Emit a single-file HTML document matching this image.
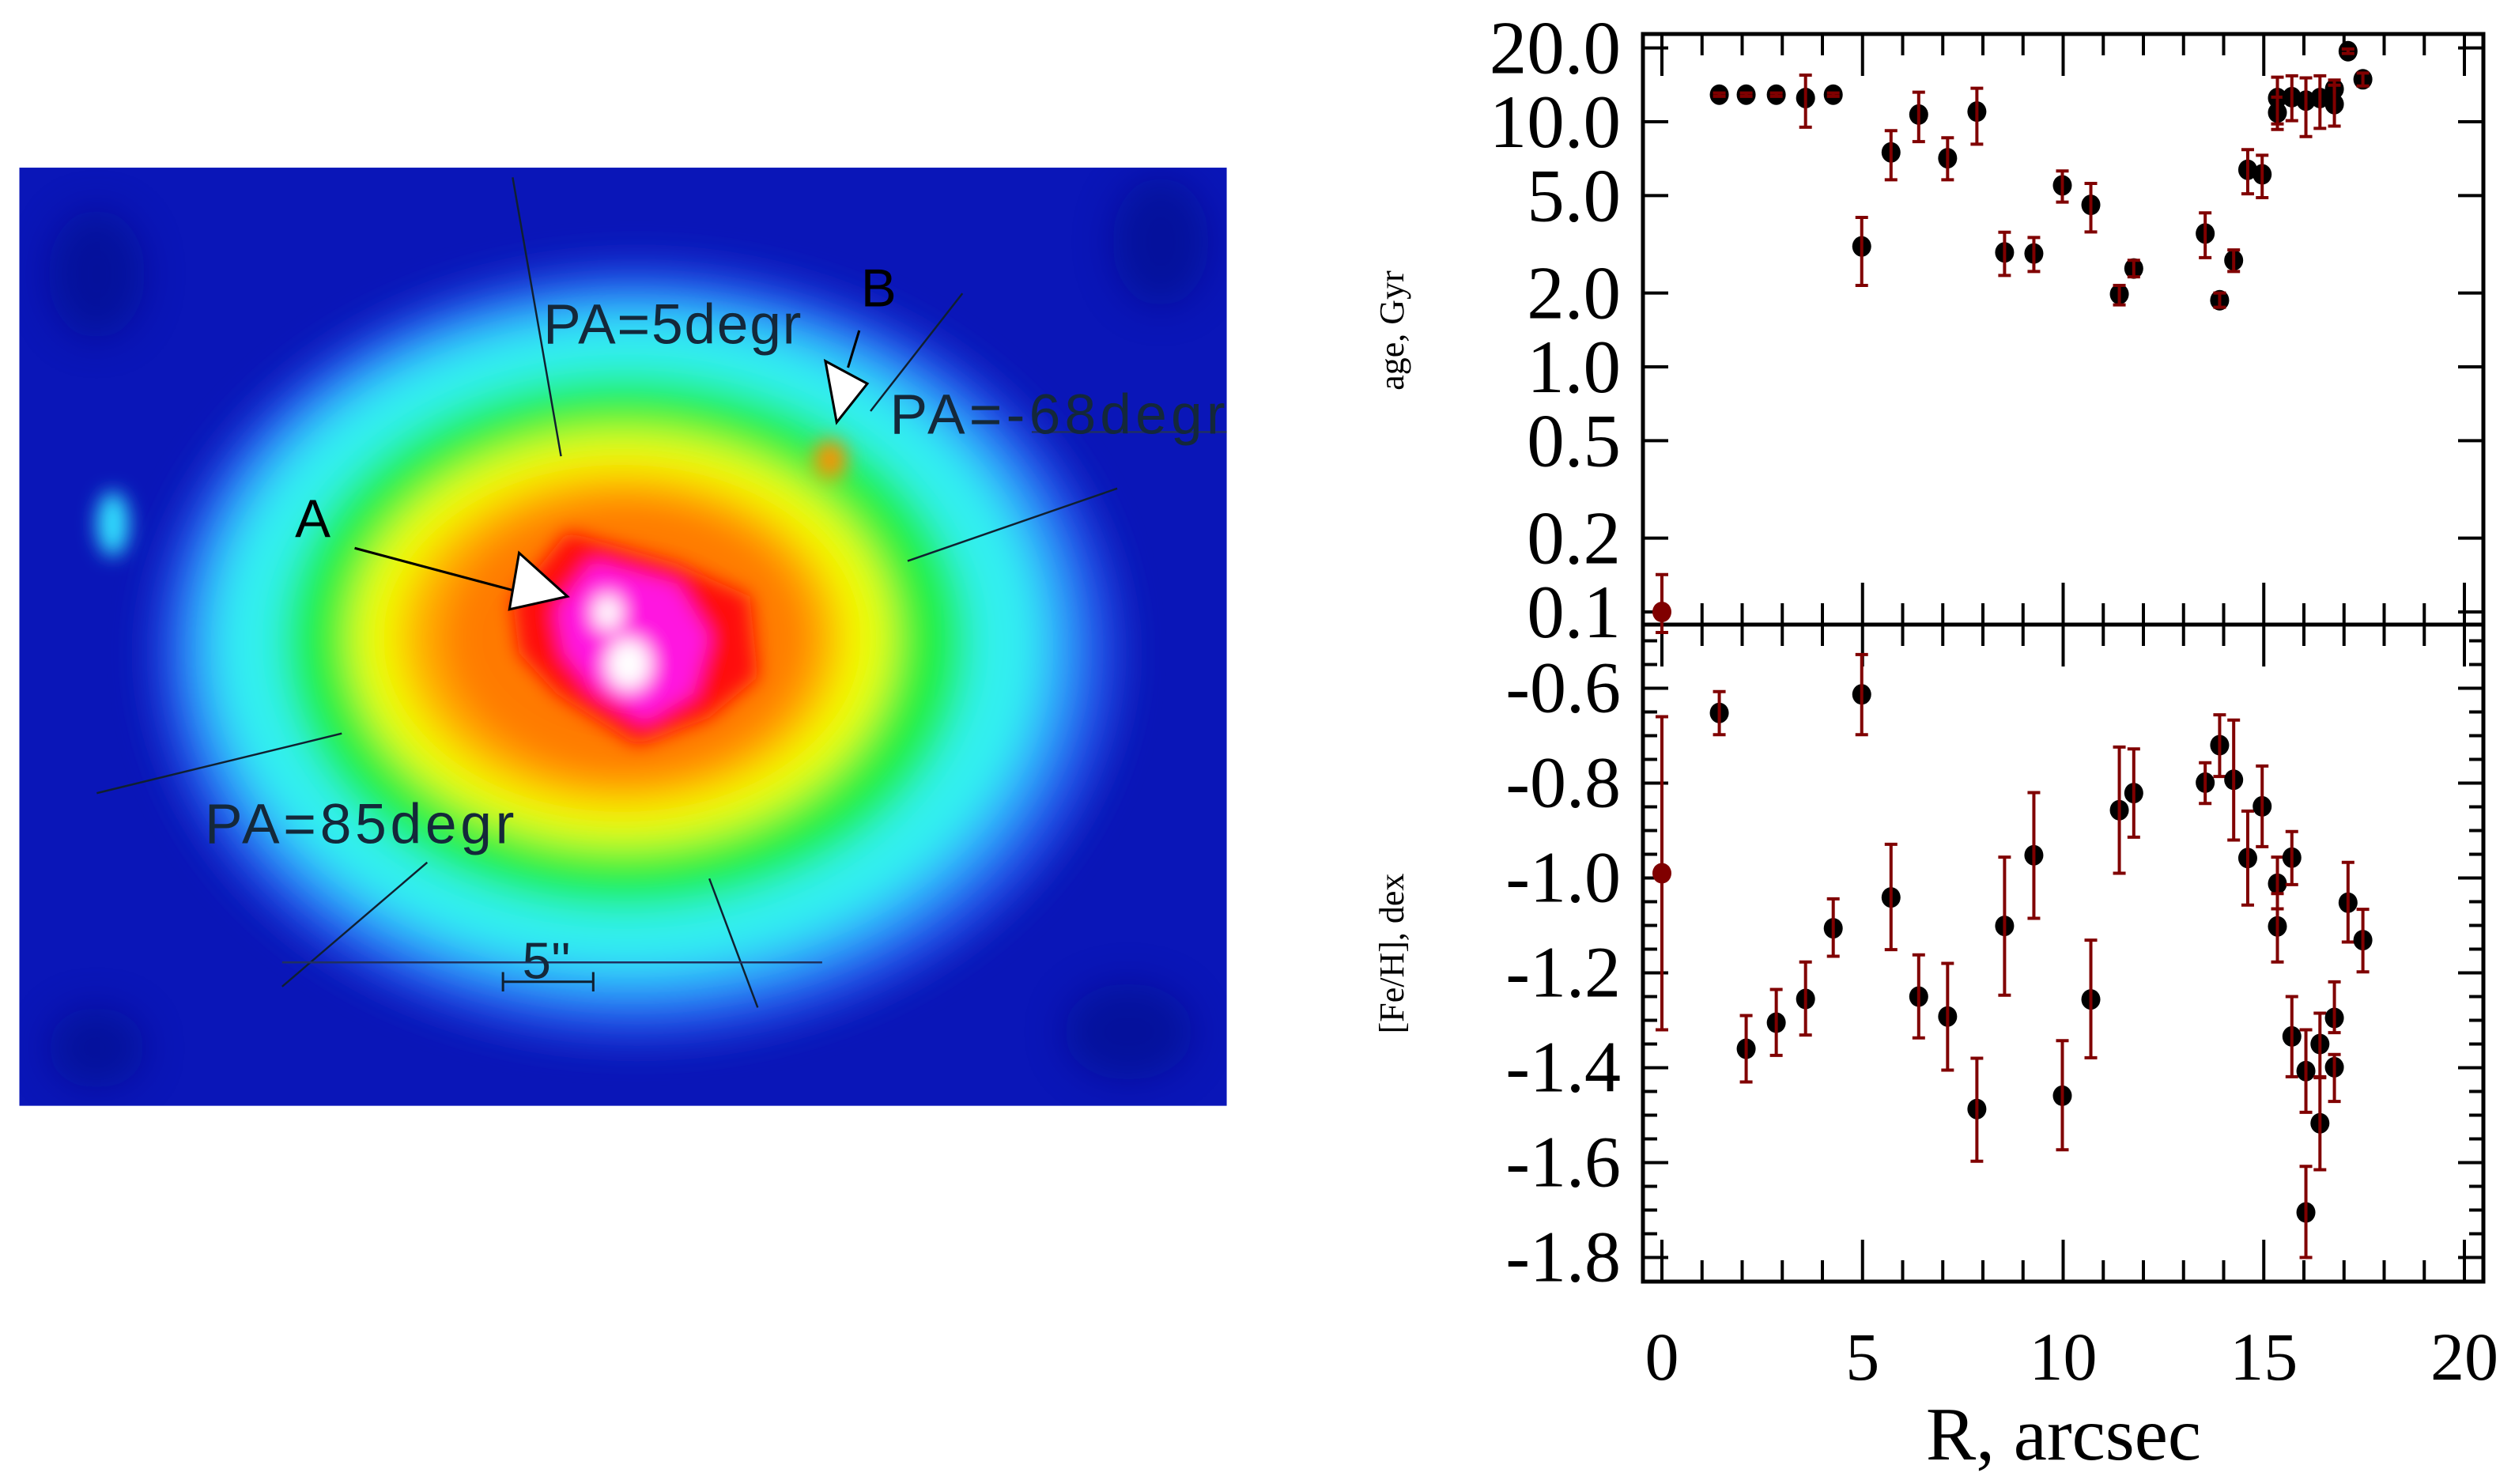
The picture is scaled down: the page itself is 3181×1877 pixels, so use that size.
<!DOCTYPE html>
<html><head><meta charset="utf-8"><style>
html,body{margin:0;padding:0;background:#fff}
svg{display:block}
text{font-family:"Liberation Serif",serif}
.img text{font-family:"Liberation Sans",sans-serif}
</style></head><body>
<svg id="fig" width="3181" height="1877" viewBox="0 0 3181 1877" xmlns="http://www.w3.org/2000/svg">
<defs>
<filter id="b1" x="-50%" y="-50%" width="200%" height="200%"><feGaussianBlur stdDeviation="12"/></filter>
<filter id="b2" x="-50%" y="-50%" width="200%" height="200%"><feGaussianBlur stdDeviation="6"/></filter>
<clipPath id="imgclip"><rect x="12" y="104" width="749" height="582"/></clipPath>
</defs>

<g class="img" transform="scale(2.039)">
 <g clip-path="url(#imgclip)">
  <rect x="12" y="104" width="749" height="582" fill="#0a16b8"/>
  <g filter="url(#b1)" fill="#000a80" opacity="0.5">
   <ellipse cx="60" cy="170" rx="30" ry="40"/><ellipse cx="720" cy="150" rx="30" ry="40"/>
   <ellipse cx="700" cy="640" rx="40" ry="30"/><ellipse cx="60" cy="650" rx="30" ry="25"/>
  </g>
  <g filter="url(#b1)">
   <ellipse cx="395" cy="405" rx="300" ry="240" fill="#2050e8"/>
   <ellipse cx="392" cy="402" rx="275" ry="218" fill="#30a8ff"/>
   <ellipse cx="390" cy="400" rx="255" ry="200" fill="#30f0f0"/>
   <ellipse cx="388" cy="398" rx="212" ry="165" fill="#20f040"/>
   <ellipse cx="386" cy="396" rx="168" ry="128" fill="#f0ff00"/>
   <ellipse cx="385" cy="396" rx="138" ry="104" fill="#ffb000"/>
   <ellipse cx="388" cy="396" rx="115" ry="88" fill="#ff7a00"/>
  </g>
  <g filter="url(#b2)">
   <path d="M318,372 L352,330 L420,350 L465,370 L470,420 L440,445 L395,462 L345,430 L322,405Z" fill="#ff1010"/>
   <path d="M345,378 L368,348 L420,362 L440,395 L430,430 L400,448 L368,428 L350,405Z" fill="#ff18e0"/>
   <ellipse cx="377" cy="380" rx="9" ry="11" fill="#fff"/>
   <ellipse cx="390" cy="412" rx="14" ry="16" fill="#fff"/>
   <ellipse cx="515" cy="285" rx="10" ry="12" fill="#ff9000"/>
   <ellipse cx="70" cy="325" rx="10" ry="20" fill="#30e0ff"/>
  </g>
  <g stroke="#102030" stroke-width="1.2" fill="none">
   <line x1="318" y1="110" x2="348" y2="283"/><line x1="440" y1="545" x2="470" y2="625"/>
   <line x1="597" y1="182" x2="540" y2="255"/><line x1="563" y1="348" x2="693" y2="303"/>
   <line x1="60" y1="492" x2="212" y2="455"/><line x1="175" y1="612" x2="265" y2="535"/>
   <line x1="175" y1="597" x2="510" y2="597" stroke="#203060"/>
   <line x1="640" y1="268" x2="761" y2="268" stroke="#203060"/>
  </g>
  <g stroke="#102030" stroke-width="1.5">
   <line x1="312" y1="609" x2="368" y2="609"/><line x1="312" y1="603" x2="312" y2="615"/><line x1="368" y1="603" x2="368" y2="615"/>
  </g>
  <g stroke="#000" stroke-width="1.5">
   <line x1="220" y1="340" x2="325" y2="368"/>
   <polygon points="322,343 352,370 316,378" fill="#fff"/>
   <line x1="533" y1="205" x2="526" y2="228"/>
   <polygon points="512,224 538,238 519,262" fill="#fff"/>
  </g>
  <g fill="#14283a" font-size="35">
   <text x="337" y="213" textLength="160">PA=5degr</text>
   <text x="534" y="190" font-size="33" fill="#000">B</text>
   <text x="552" y="269" textLength="208">PA=-68degr</text>
   <text x="183" y="333" font-size="33" fill="#000">A</text>
   <text x="127" y="523" textLength="192">PA=85degr</text>
   <text x="324" y="607" font-size="32">5''</text>
  </g>
 </g>
</g>

<g id="chart"></g>
</svg>
<script>
const ageR   = [1.43,2.1,2.85,3.58,4.27,4.98,5.71,6.4,7.12,7.85,8.54,9.27,9.98,10.69,11.4,11.76,13.54,13.9,14.25,14.6,14.96,15.34,15.34,15.7,16.05,16.4,16.76,16.76,17.1,17.47];
const ageVal = [12.9,12.9,12.9,12.5,12.9,3.1,7.5,10.7,7.1,11,2.93,2.9,5.5,4.58,1.98,2.52,3.5,1.87,2.72,6.37,6.1,12.5,10.9,12.6,12.2,12.5,13.6,11.8,19.4,14.9];
const ageHi  = [13.1,13.1,13.1,15.5,13.1,4.07,9.2,13.2,8.6,13.7,3.54,3.37,6.3,5.6,2.15,2.72,4.25,2.0,3.0,7.7,7.3,15.2,12.6,15.4,15.1,15.4,14.8,14.1,19.8,15.8];
const ageLo  = [12.7,12.7,12.7,9.5,12.7,2.15,5.8,8.3,5.8,8.1,2.36,2.45,4.7,3.55,1.79,2.33,2.79,1.75,2.45,5.08,4.9,9.8,9.3,10.1,8.7,9.4,12.3,9.6,19.0,14.0];
const ageRefR=[0], ageRefVal=[0.1], ageRefHi=[0.142], ageRefLo=[0.07];

const feR   = [1.43,2.1,2.85,3.58,4.27,4.98,5.71,6.4,7.12,7.85,8.54,9.27,9.98,10.69,11.4,11.76,13.54,13.9,14.25,14.6,14.96,15.34,15.34,15.7,15.7,16.05,16.05,16.4,16.4,16.76,16.76,17.1,17.47];
const feVal = [-0.652,-1.36,-1.305,-1.255,-1.106,-0.613,-1.041,-1.25,-1.292,-1.487,-1.101,-0.952,-1.459,-1.256,-0.857,-0.821,-0.799,-0.72,-0.793,-0.958,-0.849,-1.012,-1.102,-0.957,-1.334,-1.407,-1.705,-1.35,-1.517,-1.295,-1.399,-1.052,-1.131];
const feHi  = [-0.607,-1.29,-1.235,-1.177,-1.044,-0.529,-0.929,-1.162,-1.18,-1.38,-0.956,-0.82,-1.343,-1.131,-0.724,-0.728,-0.757,-0.656,-0.667,-0.859,-0.764,-0.956,-1.033,-0.902,-1.25,-1.32,-1.608,-1.285,-1.421,-1.219,-1.372,-0.967,-1.066];
const feLo  = [-0.698,-1.43,-1.374,-1.331,-1.165,-0.698,-1.151,-1.337,-1.405,-1.597,-1.247,-1.085,-1.573,-1.379,-0.99,-0.914,-0.843,-0.786,-0.92,-1.057,-0.934,-1.065,-1.177,-1.014,-1.419,-1.494,-1.8,-1.419,-1.615,-1.326,-1.471,-1.135,-1.198];
const feRefR=[0], feRefVal=[-0.99], feRefHi=[-0.66], feRefLo=[-1.32];

const xTicks = [0,5,10,15,20];
const ageTicks = [20,10,5,2,1,0.5,0.2,0.1];
const ageTickLabels = ["20.0","10.0","5.0","2.0","1.0","0.5","0.2","0.1"];
const feTicks = [-0.6,-0.8,-1.0,-1.2,-1.4,-1.6,-1.8];
const feTickLabels = ["-0.6","-0.8","-1.0","-1.2","-1.4","-1.6","-1.8"];

const L=2078,R=3141,T=43,M=790,B=1621;
const xs=r=>2102+r*50.75;
const ya=v=>464-310*Math.log10(v);
const yf=f=>1110.5-(f+1)*600;
const NS="http://www.w3.org/2000/svg";
const root=document.getElementById('chart');
function mk(tag,attrs,parent){const e=document.createElementNS(NS,tag);for(const k in attrs)e.setAttribute(k,attrs[k]);(parent||root).appendChild(e);return e;}

const frame=mk('g',{stroke:'#000','stroke-width':5,fill:'none'});


mk('rect',{x:L,y:T,width:R-L,height:B-T},frame);
mk('line',{x1:L,y1:M,x2:R,y2:M},frame);

const tk=mk('g',{stroke:'#000','stroke-width':4});


for(let r=0;r<=20;r++){const x=xs(r),len=(r%5===0)?53:27;
 mk('line',{x1:x,y1:T,x2:x,y2:T+len},tk);mk('line',{x1:x,y1:M,x2:x,y2:M-len},tk);
 mk('line',{x1:x,y1:M,x2:x,y2:M+len},tk);mk('line',{x1:x,y1:B,x2:x,y2:B-len},tk);}
ageTicks.forEach(v=>{const y=ya(v);mk('line',{x1:L,y1:y,x2:L+32,y2:y},tk);mk('line',{x1:R,y1:y,x2:R-32,y2:y},tk);});
for(let i=0;i<=27;i++){const f=-0.5-i*0.05;const y=yf(f);if(y<M+3||y>B-3)continue;
 const maj=Math.abs(Math.round(f*10)/10-f)<1e-6 && Math.round(f*10)%2===0;const len=maj?32:18;
 mk('line',{x1:L,y1:y,x2:L+len,y2:y},tk);mk('line',{x1:R,y1:y,x2:R-len,y2:y},tk);}

ageTicks.forEach((v,i)=>{const t=mk('text',{x:2050,y:ya(v)+32,'text-anchor':'end','font-size':95});t.textContent=ageTickLabels[i];
 
 });
feTicks.forEach((v,i)=>{const t=mk('text',{x:2050,y:yf(v)+30,'text-anchor':'end','font-size':92});t.textContent=feTickLabels[i];
 
 });
xTicks.forEach(v=>{const t=mk('text',{x:xs(v),y:1745,'text-anchor':'middle','font-size':86});t.textContent=String(v);
 
 });
let t=mk('text',{x:2610,y:1846,'text-anchor':'middle','font-size':95});t.textContent='R, arcsec';


t=mk('text',{x:0,y:0,'text-anchor':'middle','font-size':44,transform:'translate(1775,418) rotate(-90)'});t.textContent='age, Gyr';


t=mk('text',{x:0,y:0,'text-anchor':'middle','font-size':44,transform:'translate(1775,1206) rotate(-90)'});t.textContent='[Fe/H], dex';



function series(rs,vals,hi,lo,yfun,fill,name){
 const g=mk('g',{});
 
 
 rs.forEach((r,i)=>{const x=xs(r);
  const c=mk('ellipse',{cx:x,cy:yfun(vals[i]),rx:12,ry:13,fill:fill},g);
  
  
  const y1=Math.max(yfun(hi[i]),0),y2=yfun(lo[i]);
  const e=mk('path',{d:`M${x},${y1}V${y2}M${x-8},${y1}H${x+8}M${x-8},${y2}H${x+8}`,stroke:'#800000','stroke-width':4,fill:'none'},g);
  
  
 });
}
series(ageR,ageVal,ageHi,ageLo,ya,'#000','age-series');
series(ageRefR,ageRefVal,ageRefHi,ageRefLo,v=>Math.min(ya(v),800),'#800000','age-center-point');
series(feR,feVal,feHi,feLo,yf,'#000','feh-series');
series(feRefR,feRefVal,feRefHi,feRefLo,yf,'#800000','feh-center-point');
</script>
</body></html>
